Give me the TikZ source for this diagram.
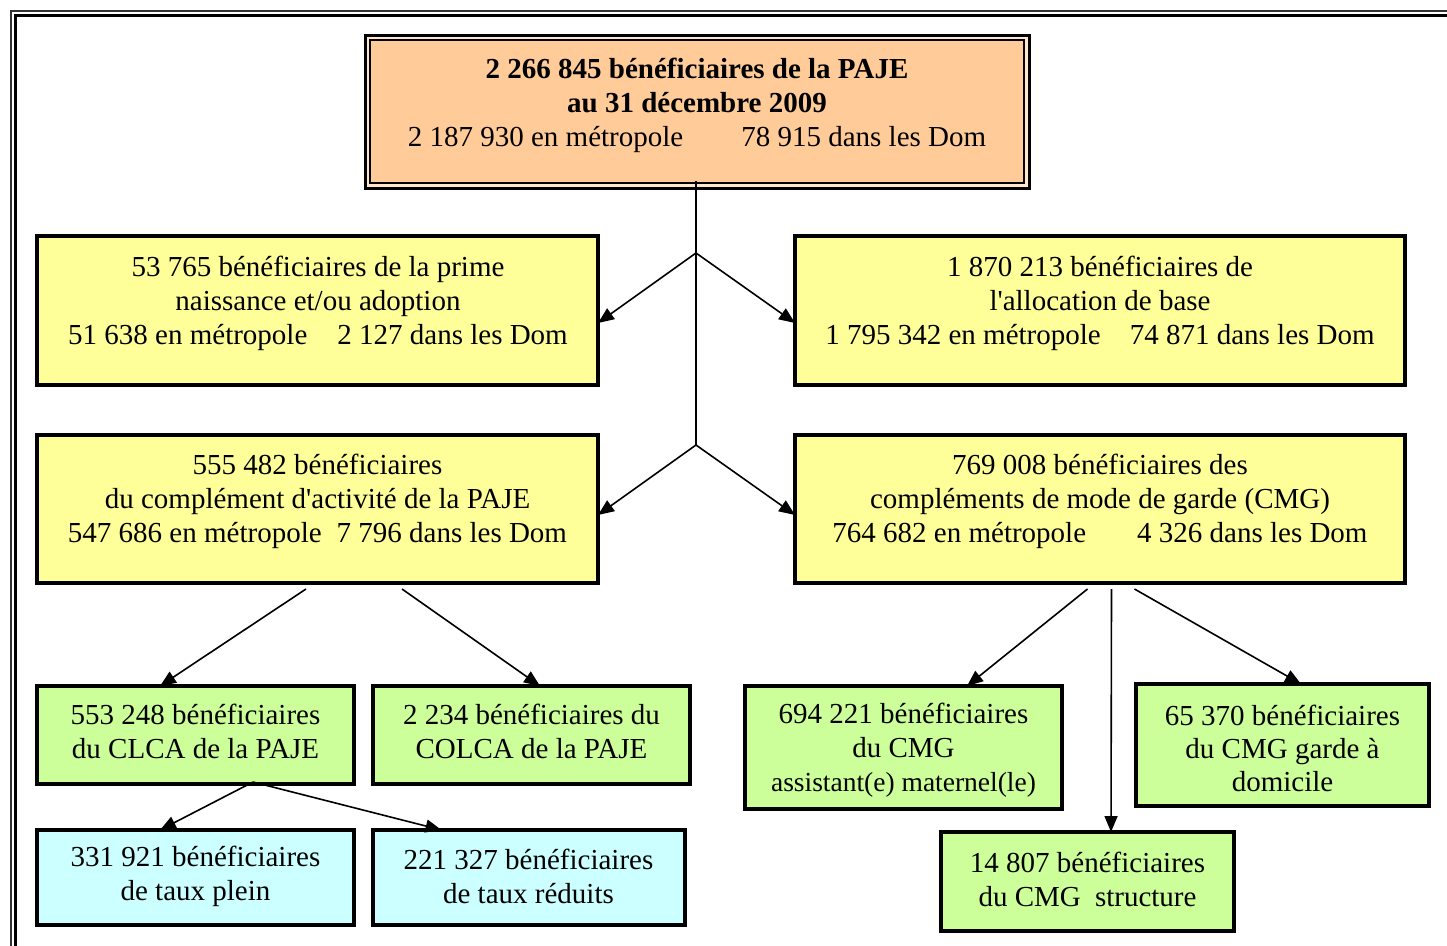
\documentclass[tikz,border=0pt]{standalone}
\usepackage{fontspec}
\setmainfont{Liberation Serif}[Ligatures=TeXOff]
\usetikzlibrary{arrows.meta,calc}
\definecolor{orangebox}{HTML}{FFCC99}
\definecolor{orangegap}{HTML}{FFE6CC}
\definecolor{yellowbox}{HTML}{FFFF99}
\definecolor{greenbox}{HTML}{CCFF99}
\definecolor{cyanbox}{HTML}{CCFFFF}
\begin{document}
\begin{tikzpicture}[x=1pt,y=-1pt,
  box/.style={draw=black, line width=3.5pt, inner sep=0pt, outer sep=0pt, anchor=north west},
  txt/.style={align=center, font=\fontsize{29}{34}\selectfont, inner sep=0pt, text=black},
  stem/.style={line width=1.6pt},
  arr/.style={line width=1.6pt, -{Triangle[length=16pt,width=13pt]}},
]
\path[use as bounding box, fill=white] (0,0) rectangle (1447,945);
\clip (0,0) rectangle (1447,945);
% outer frame
\draw[line width=2pt, black!80] (10.5,960) -- (10.5,10.5) -- (1460,10.5);
\draw[line width=3pt] (15.5,960) -- (15.5,15.5) -- (1460,15.5);

% top box
\node[box, line width=3pt, fill=orangegap, minimum width=664pt, minimum height=153pt] (top) at (365,35) {};
\node[box, line width=2pt, fill=orangebox, minimum width=654pt, minimum height=143pt] (topin) at (370,40) {};
\node[txt] (toptxt) at (697,105) {\textbf{2 266 845 bénéficiaires de la PAJE}\\
  \textbf{au 31 décembre 2009}\\
  2 187 930 en métropole\hspace{58pt}78 915 dans les Dom};

% level 1
\node[box, fill=yellowbox, minimum width=561pt, minimum height=149pt] (b1) at (37,236) {};
\node[txt] (b1t) at (318,303) {53 765 bénéficiaires de la prime\\naissance et/ou adoption\\
  51 638 en métropole\hspace{30pt}2 127 dans les Dom};
\node[box, fill=yellowbox, minimum width=610pt, minimum height=149pt] (b2) at (795,236) {};
\node[txt] (b2t) at (1100,303) {1 870 213 bénéficiaires de\\l'allocation de base\\
  1 795 342 en métropole\hspace{29pt}74 871 dans les Dom};

% level 2
\node[box, fill=yellowbox, minimum width=561pt, minimum height=148pt] (b3) at (37,435) {};
\node[txt] (b3t) at (317.5,501) {555 482 bénéficiaires\\du complément d'activité de la PAJE\\
  547 686 en métropole\hspace{15pt}7 796 dans les Dom};
\node[box, fill=yellowbox, minimum width=610pt, minimum height=148pt] (b4) at (795,435) {};
\node[txt] (b4t) at (1100,501) {769 008 bénéficiaires des\\compléments de mode de garde (CMG)\\
  764 682 en métropole\hspace{51pt}4 326 dans les Dom};

% level 3 left
\node[box, fill=greenbox, minimum width=317pt, minimum height=98pt] (g1) at (37,686) {};
\node[txt] (g1t) at (195.5,731.5) {553 248 bénéficiaires\\du CLCA de la PAJE};
\node[box, fill=greenbox, minimum width=317pt, minimum height=98pt] (g2) at (373,686) {};
\node[txt] (g2t) at (531.5,731.5) {2 234 bénéficiaires du\\COLCA de la PAJE};
\node[box, fill=cyanbox, minimum width=317pt, minimum height=95pt] (c1) at (37,830) {};
\node[txt] (c1t) at (195.5,876) {331 921 bénéficiaires\\de taux plein};
\node[box, fill=cyanbox, minimum width=312pt, minimum height=95pt] (c2) at (373,830) {};
\node[txt] (c2t) at (528.5,876) {221 327 bénéficiaires\\de taux réduits};

% level 3 right
\node[box, fill=greenbox, minimum width=317pt, minimum height=123pt] (g3) at (745,686) {};
\node[txt] (g3t) at (903.5,750) {694 221 bénéficiaires\\du CMG\\{\fontsize{27.5}{34}\selectfont assistant(e) maternel(le)}};
\node[box, fill=greenbox, minimum width=293pt, minimum height=122pt] (g4) at (1136,684) {};
\node[txt, font=\fontsize{29}{33}\selectfont] (g4t) at (1282.5,748) {65 370 bénéficiaires\\du CMG garde à\\domicile};
\node[box, fill=greenbox, minimum width=293pt, minimum height=99pt] (g5) at (941,832) {};
\node[txt] (g5t) at (1087.5,879) {14 807 bénéficiaires\\du CMG\hspace{7pt} structure};

% connectors
\coordinate (stemtop) at (696,181);
\coordinate (j1) at (696,253);
\coordinate (j2) at (696,445);
\draw[stem] (stemtop) -- (j2);
\draw[arr] (j1) -- ([yshift=-12.5pt]b1.east);
\draw[arr] (j1) -- ([yshift=-12.5pt]b2.west);
\draw[arr] (j2) -- ([yshift=-6pt]b3.east);
\draw[arr] (j2) -- ([yshift=-6pt]b4.west);

\draw[arr] ([xshift=-11.5pt,yshift=-6pt]b3.south) -- ([xshift=-35.5pt]g1.north);
\draw[arr] ([xshift=84.5pt,yshift=-6pt]b3.south) -- ([xshift=8.5pt]g2.north);

\coordinate (split) at ([xshift=57.5pt,yshift=2pt]g1.south);
\draw[arr] (split) -- ([xshift=-35.5pt]c1.north);
\draw[arr] (split) -- ([xshift=-87.5pt]c2.north);

\draw[arr] ([xshift=-12.5pt,yshift=-6pt]b4.south) -- ([xshift=63.5pt]g3.north);
\draw[arr] ([xshift=11.5pt,yshift=-6pt]b4.south) -- ([xshift=23.5pt]g5.north);
\draw[arr] ([xshift=34.5pt,yshift=-6pt]b4.south) -- ([xshift=18.5pt]g4.north);
\end{tikzpicture}
\end{document}
